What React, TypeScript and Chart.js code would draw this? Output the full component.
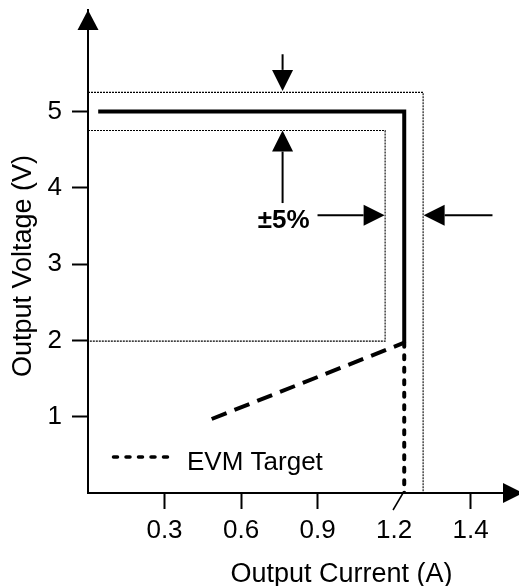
import { useEffect, useRef } from "react";
import { Chart, registerables } from "chart.js";

Chart.register(...registerables);

// ---- data ----
const xTickValues = [0.3, 0.6, 0.9, 1.2, 1.5];
const xTickLabels = ["0.3", "0.6", "0.9", "1.2", "1.4"];
const yTickValues = [1, 2, 3, 4, 5];
const xBreakValue = 1.2;

const outerLimitX = [0, 1.314, 1.314];
const outerLimitY = [5.25, 5.25, 0];
const innerLimitX = [0, 1.165, 1.165, 0];
const innerLimitY = [4.75, 4.75, 1.99, 1.99];
const cvLineX = [0.04, 1.24, 1.24];
const cvLineY = [5, 5, 1.97];
const foldbackX = [0.485, 1.24];
const foldbackY = [0.97, 1.97];
const evmTargetX = [1.24, 1.24];
const evmTargetY = [1.97, 0];

// arrows: start (x1,y1) -> tip (x2,y2)
const arrowX1 = [0.763, 0.763, 0.9, 1.586];
const arrowY1 = [5.75, 3.8, 3.64, 3.64];
const arrowX2 = [0.763, 0.763, 1.163, 1.316];
const arrowY2 = [5.27, 4.75, 3.64, 3.64];

const toleranceLabel = "±5%";
const xTitle = "Output Current (A)";
const yTitle = "Output Voltage (V)";
const evmLabel = "EVM Target";

const FONT = "'Liberation Sans', Arial, Helvetica, sans-serif";

const pts = (xs: number[], ys: number[]) => xs.map((v, i) => ({ x: v, y: ys[i] }));

function arrowHead(ctx: CanvasRenderingContext2D, x1: number, y1: number, x2: number, y2: number, len: number, half: number) {
  const a = Math.atan2(y2 - y1, x2 - x1);
  const bx = x2 - Math.cos(a) * len;
  const by = y2 - Math.sin(a) * len;
  const nx = -Math.sin(a) * half;
  const ny = Math.cos(a) * half;
  ctx.beginPath();
  ctx.moveTo(x2, y2);
  ctx.lineTo(bx + nx, by + ny);
  ctx.lineTo(bx - nx, by - ny);
  ctx.closePath();
  ctx.fill();
  return { bx, by };
}

const decorPlugin = {
  id: "decor",
  afterDraw(chart: any) {
    const { ctx, chartArea: ca, scales } = chart;
    const xs = scales.x;
    const ys = scales.y;
    ctx.save();
    ctx.fillStyle = "#000";
    ctx.strokeStyle = "#000";

    // axis arrow heads
    arrowHead(ctx, ca.left, ca.bottom, ca.left, ca.top, 20, 10.5);
    ctx.lineWidth = 2;
    ctx.beginPath();
    ctx.moveTo(ca.right - 2, ca.bottom);
    ctx.lineTo(ca.right + 4, ca.bottom);
    ctx.stroke();
    arrowHead(ctx, ca.left, ca.bottom, ca.right + 4, ca.bottom, 20, 10);

    // axis break slash at 1.2
    const bxp = xs.getPixelForValue(xBreakValue);
    ctx.lineWidth = 1.5;
    ctx.beginPath();
    ctx.moveTo(bxp - 1, ca.bottom + 17);
    ctx.lineTo(bxp + 9, ca.bottom);
    ctx.stroke();

    // annotation arrows
    ctx.lineWidth = 2;
    for (let i = 0; i < arrowX1.length; i++) {
      const p1x = xs.getPixelForValue(arrowX1[i]);
      const p1y = ys.getPixelForValue(arrowY1[i]);
      const p2x = xs.getPixelForValue(arrowX2[i]);
      const p2y = ys.getPixelForValue(arrowY2[i]);
      const { bx, by } = arrowHead(ctx, p1x, p1y, p2x, p2y, 21, 10.5);
      ctx.beginPath();
      ctx.moveTo(p1x, p1y);
      ctx.lineTo(bx, by);
      ctx.stroke();
    }

    // tolerance label
    ctx.font = `bold 26px ${FONT}`;
    ctx.textAlign = "center";
    ctx.textBaseline = "alphabetic";
    ctx.fillText(toleranceLabel, xs.getPixelForValue(0.767), ys.getPixelForValue(3.47));

    // legend for EVM target
    const ds = chart.data.datasets[4];
    const lx1 = ca.left + 22;
    const lx2 = ca.left + 82;
    const ly = ca.bottom - 36;
    ctx.save();
    ctx.lineWidth = 3.5;
    ctx.lineCap = "round";
    ctx.setLineDash(ds.borderDash);
    ctx.lineDashOffset = 9;
    ctx.beginPath();
    ctx.moveTo(lx1, ly);
    ctx.lineTo(lx2, ly);
    ctx.stroke();
    ctx.restore();
    ctx.font = `26px ${FONT}`;
    ctx.textAlign = "left";
    ctx.textBaseline = "alphabetic";
    ctx.fillText(ds.label, ca.left + 99, ca.bottom - 23);

    // axis titles
    ctx.font = `27px ${FONT}`;
    ctx.textAlign = "center";
    ctx.fillText(xTitle, 341.5, 582);
    ctx.save();
    ctx.translate(31, 266);
    ctx.rotate(-Math.PI / 2);
    ctx.fillText(yTitle, 0, 0);
    ctx.restore();

    ctx.restore();
  },
};

export default function App() {
  const ref = useRef<HTMLCanvasElement | null>(null);
  useEffect(() => {
    document.body.style.margin = "0";
    const canvas = ref.current;
    if (!canvas) return;
    const dotted = { borderColor: "#000", borderWidth: 1.1, borderDash: [2, 1], pointRadius: 0, fill: false, tension: 0 };
    const chart = new Chart(canvas, {
      type: "line",
      data: {
        datasets: [
          { label: "Upper limit", data: pts(outerLimitX, outerLimitY), ...dotted },
          { label: "Lower limit", data: pts(innerLimitX, innerLimitY), ...dotted },
          {
            label: "Output",
            data: pts(cvLineX, cvLineY),
            borderColor: "#000",
            borderWidth: 4,
            borderJoinStyle: "miter",
            pointRadius: 0,
            fill: false,
            tension: 0,
          },
          {
            label: "Foldback",
            data: pts(foldbackX, foldbackY),
            borderColor: "#000",
            borderWidth: 4,
            borderDash: [16, 8.5],
            pointRadius: 0,
            fill: false,
            tension: 0,
          },
          {
            label: evmLabel,
            data: pts(evmTargetX, evmTargetY),
            borderColor: "#000",
            borderWidth: 4,
            borderDash: [4, 8.5],
            borderCapStyle: "round",
            pointRadius: 0,
            fill: false,
            tension: 0,
          },
        ],
      },
      options: {
        animation: false,
        responsive: true,
        maintainAspectRatio: false,
        layout: { padding: { top: 10, right: 0, left: 0, bottom: 0 } },
        plugins: { legend: { display: false }, tooltip: { enabled: false } },
        scales: {
          x: {
            type: "linear",
            min: 0,
            max: 1.69,
            afterBuildTicks: (s: any) => {
              s.ticks = xTickValues.map((v) => ({ value: v }));
            },
            afterFit: (s: any) => {
              s.height = 93;
              s.paddingLeft = 0;
              s.paddingRight = 0;
            },
            ticks: {
              autoSkip: false,
              maxRotation: 0,
              padding: 6,
              color: "#000",
              font: { size: 26, family: FONT },
              callback: (_v: any, i: number) => xTickLabels[i],
            },
            grid: {
              drawOnChartArea: false,
              drawTicks: true,
              tickLength: 16,
              tickWidth: 2,
              tickColor: (c: any) => (c.tick && c.tick.value === xBreakValue ? "rgba(0,0,0,0)" : "#000"),
            },
            border: { display: true, color: "#000", width: 2 },
          },
          y: {
            type: "linear",
            min: 0,
            max: 6.33,
            afterBuildTicks: (s: any) => {
              s.ticks = yTickValues.map((v) => ({ value: v }));
            },
            afterFit: (s: any) => {
              s.width = 88;
              s.paddingTop = 0;
              s.paddingBottom = 0;
            },
            ticks: {
              padding: 10,
              color: "#000",
              font: { size: 26, family: FONT },
              callback: (v: any) => String(v),
            },
            grid: {
              drawOnChartArea: false,
              drawTicks: true,
              tickLength: 16,
              tickWidth: 2,
              tickColor: "#000",
            },
            border: { display: true, color: "#000", width: 2 },
          },
        },
      },
      plugins: [decorPlugin],
    } as any);
    return () => chart.destroy();
  }, []);
  return (
    <div style={{ position: "absolute", left: 0, top: 0, width: 519, height: 586, background: "#fff" }}>
      <canvas ref={ref} />
    </div>
  );
}
